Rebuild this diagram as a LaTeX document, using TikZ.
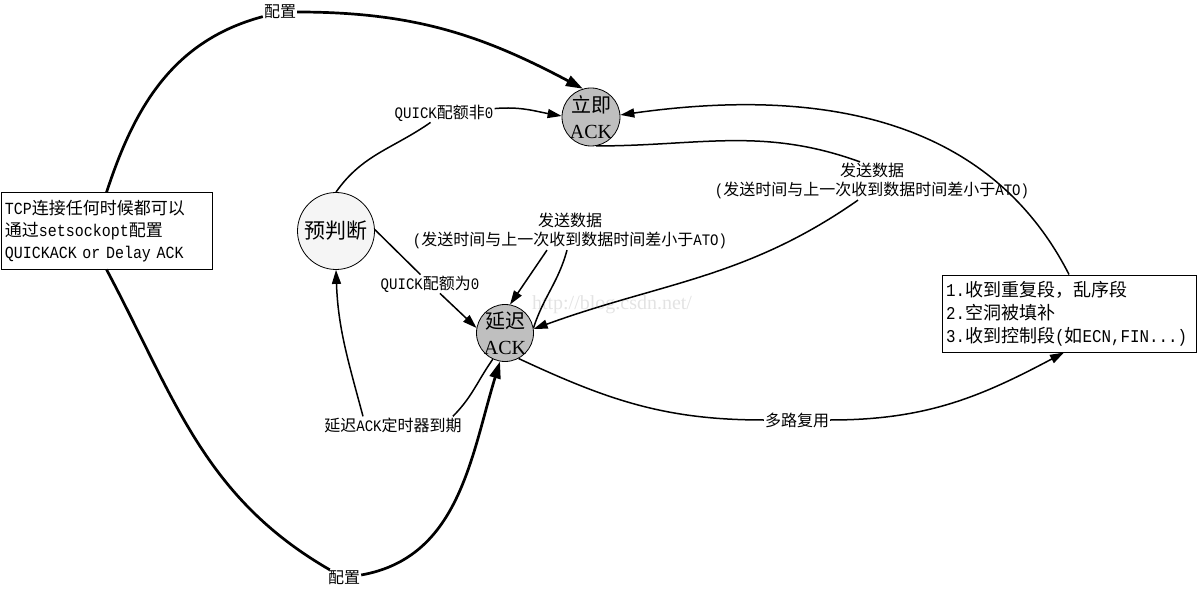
\documentclass[tikz,border=0pt]{standalone}
\usepackage{fontspec}
\setmainfont{Liberation Mono}[FakeStretch=0.88]
\newfontfamily\zhfont{Noto Sans CJK SC}
\newfontfamily\serfont{Liberation Serif}
\newcommand{\zh}[1]{{\zhfont #1}}
\usetikzlibrary{arrows.meta}

\begin{document}
\begin{tikzpicture}[x=1pt,y=1pt]
\tikzstyle{every node}+=[inner sep=1pt]
\tikzstyle{state}=[circle,draw=black,line width=0.8pt,align=center,font=\fontsize{20}{26}\selectfont]
\tikzstyle{box}=[draw=black,line width=1pt,align=left,inner sep=4pt]
\tikzstyle{lbl}=[fill=white,align=center,font=\fontsize{16}{19}\selectfont]
\tikzstyle{plain}=[black,line width=1.5pt]
\tikzstyle{edge}=[plain,-{Triangle[length=14pt,width=9pt]}]
\tikzstyle{heavy}=[black,line width=2.7pt]
\tikzstyle{heavyedge}=[heavy,-{Triangle[length=17pt,width=11pt]}]
\useasboundingbox (0,0) rectangle (1199,590);
\node [text=gray!22,font=\serfont\fontsize{20}{22}\selectfont] (wm) at (612,285) {http://blog.csdn.net/};
% states
\node [state,fill=gray!50,minimum size=58pt,inner sep=-4pt] (imm) at (591,473) {\zh{立即}\\{\serfont ACK}};
\node [state,fill=gray!50,minimum size=57pt,inner sep=-4pt] (del) at (505,257) {\zh{延迟}\\{\serfont ACK}};
\node [state,fill=gray!8,minimum size=77pt,font=\fontsize{21}{24}\selectfont] (pre) at (336,359) {\zh{预判断}};
% boxes
\node [box,text width=203pt,minimum height=76pt,font=\fontsize{17}{22}\selectfont] (cfg) at (106.5,359) {TCP\zh{连接任何时候都可以}\\\zh{通过}setsockopt\zh{配置}\\QUICKACK or Delay ACK};
\node [box,text width=246pt,minimum height=77pt,font=\fontsize{18}{23}\selectfont] (recv) at (1069,276.5) {1.\zh{收到重复段，乱序段}\\2.\zh{空洞被填补}\\3.\zh{收到控制段}(\zh{如}ECN,FIN...)};
% labels
\node [lbl] (cfgtop) at (280,578) {\zh{配置}};
\node [lbl] (cfgbot) at (344,12) {\zh{配置}};
\node [lbl] (qnz) at (444,477) {QUICK\zh{配额非}0};
\node [lbl] (qz) at (430,306) {QUICK\zh{配额为}0};
\node [lbl] (tmo) at (393,165) {\zh{延迟}ACK\zh{定时器到期}};
\node [lbl] (sdl) at (570,359) {\zh{发送数据}\\(\zh{发送时间与上一次收到数据时间差小于}ATO)};
\node [lbl] (sdr) at (872,409) {\zh{发送数据}\\(\zh{发送时间与上一次收到数据时间差小于}ATO)};
\node [lbl] (mux) at (797,170) {\zh{多路复用}};
% setsockopt
\draw [heavy] (cfg.north) to[out=72,in=195] (cfgtop);
\draw [heavyedge] (cfgtop) to[out=0,in=152] (imm.106);
\draw [heavy] (cfg.south) to[out=-62,in=150] (cfgbot);
\draw [heavyedge] (cfgbot) to[out=10,in=-107] (del.-100);
% predict
\draw [plain] (pre.north) to[out=55,in=215] (qnz);
\draw [edge] (qnz) to[out=5,in=170] (imm.178);
\draw [edge] (pre.2) -- (qz) -- (del.170);
\draw [plain] (del.-115) to[out=-125,in=45] ([xshift=-10pt]tmo.north east);
\draw [edge] ([xshift=-30pt]tmo.north) to[out=105,in=-88] (pre.-90);
% send data
\draw [plain] (del.10) to[out=72,in=-105] ([xshift=-3pt]sdl.south);
\draw [edge] ([xshift=-23pt]sdl.south) -- (del.80);
\draw [plain] (imm.-80) to[out=0,in=160] ([xshift=-12pt]sdr.north);
\draw [edge] ([xshift=-14pt]sdr.south) to[out=215,in=20] (del.8);
% quick ack events
\draw [edge] (recv.north) to[out=117,in=8] (imm.4);
\draw [plain] (del.-62) to[out=-25,in=180] (mux);
\draw [edge] (mux) to[out=0,in=208] ([xshift=-5pt]recv.south);
\end{tikzpicture}
\end{document}
